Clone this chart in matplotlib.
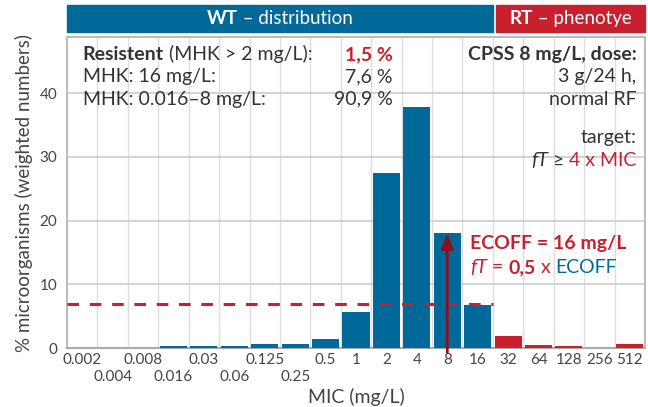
import numpy as np
import matplotlib
matplotlib.use('Agg')
import matplotlib.pyplot as plt
from matplotlib.patches import Rectangle
from matplotlib.transforms import blended_transform_factory

plt.rcParams['font.family'] = ['Lato', 'DejaVu Sans']

# data
mic_labels = ['0.002', '0.004', '0.008', '0.016', '0.03', '0.06', '0.125', '0.25',
              '0.5', '1', '2', '4', '8', '16', '32', '64', '128', '256', '512']
wt_values = [0, 0, 0, 0.3, 0.3, 0.3, 0.6, 0.6, 1.4, 5.7, 27.5, 37.8, 18.0, 6.8]
rt_values = [1.9, 0.5, 0.3, 0, 0.6]
dashed_level = 6.9
ecoff_index = 12   # 8 mg/L position of the arrow
arrow_top = 18.0

blue = '#00699a'
red = '#c8202f'
darkred = '#8e0f1f'
txt = '#333333'
grid_c = '#dddddd'

fig = plt.figure(figsize=(6.48, 4.07), dpi=100)
ax = fig.add_axes([67 / 648, 59 / 407, 578 / 648, 311 / 407])

n = len(mic_labels)
x = np.arange(n)
n_wt = len(wt_values)
ax.bar(x[:n_wt], wt_values, width=0.89, color=blue, zorder=3)
ax.bar(x[n_wt:], rt_values, width=0.89, color=red, zorder=3)

ax.set_xlim(-0.5, n - 0.5)
ax.set_ylim(0, 48.8)

# grid: vertical lines between categories, horizontal at 10 steps
ax.set_xticks(x)
ax.set_xticks(x[:-1] + 0.5, minor=True)
ax.set_yticks([0, 10, 20, 30, 40])
ax.grid(axis='x', which='minor', color=grid_c, lw=1.0, zorder=0)
ax.grid(axis='y', which='major', color='#cccccc', lw=1.2, zorder=0)
ax.tick_params(which='both', length=0)
ax.tick_params(axis='y', labelsize=11, labelcolor='#444444', pad=7)
ax.tick_params(axis='x', labelsize=11, labelcolor='#444444', pad=3.5)
ax.set_xticklabels(mic_labels)
# stagger the crowded low labels onto a second row
for i, tick in enumerate(ax.xaxis.get_major_ticks()):
    if i in (1, 3, 5, 7):
        tick.set_pad(15.5)

for s in ax.spines.values():
    s.set_color('#bbbbbb')
    s.set_linewidth(1.5)
ax.spines['bottom'].set_color('#aaaaaa')

ax.set_ylabel('% microorganisms (weighted numbers)', fontsize=13.5, color='#444444', labelpad=5)
ax.set_xlabel('MIC (mg/L)', fontsize=14, color='#444444', labelpad=3)

# dashed line over WT range
ax.plot([-0.5, n_wt - 0.5], [dashed_level, dashed_level], color=red, lw=2.2,
        dashes=(3.8, 3.5), zorder=4)

# arrow at 8 mg/L
ax.annotate('', xy=(ecoff_index, arrow_top), xytext=(ecoff_index, -0.7),
            xycoords='data', annotation_clip=False,
            arrowprops=dict(arrowstyle='-|>,head_width=0.35,head_length=0.9',
                            color=darkred, lw=2, shrinkA=0, shrinkB=0), zorder=5)

# header bars
tr = blended_transform_factory(ax.transData, ax.transAxes)
ax.add_patch(Rectangle((-0.5, 1.016), n_wt, 0.087, transform=tr, color=blue,
                       clip_on=False))
ax.add_patch(Rectangle((n_wt - 0.5 + 0.1, 1.016), n - n_wt - 0.1, 0.087, transform=tr,
                       color=red, clip_on=False))


def chain(start, pieces, y, ha='left'):
    # draw text pieces next to each other on one baseline
    prev = None
    seq = pieces if ha == 'left' else pieces[::-1]
    for s, kw in seq:
        if prev is None:
            prev = ax.text(start, y, s, ha=ha, va='baseline', **kw)
        else:
            fx = 1 if ha == 'left' else 0
            prev = ax.annotate(s, xy=(fx, y), xycoords=(prev, 'data'),
                               ha=ha, va='baseline', **kw)
    return prev


def hchain(cx, pieces, y):
    # header text centred in a bar (axes coords in y)
    t0 = ax.text(0, 0, ''.join(p[0] for p in pieces), fontsize=13.5)
    fig.canvas.draw()
    w = t0.get_window_extent().width
    t0.remove()
    px = ax.transData.transform((cx, 0))[0] - w / 2
    start = ax.transData.inverted().transform((px, 0))[0]
    prev = None
    for s, kw in pieces:
        if prev is None:
            prev = ax.text(start, y, s, ha='left', va='center', transform=tr,
                           clip_on=False, **kw)
        else:
            prev = ax.annotate(s, xy=(1, 0.5), xycoords=prev, ha='left',
                               va='center', annotation_clip=False, **kw)


wkw = dict(color='white', fontsize=13.5)
hchain((-0.5 + n_wt - 0.5) / 2, [('WT', dict(fontweight='bold', **wkw)),
                                 (' – distribution', wkw)], 1.06)
hchain((n_wt - 0.4 + n - 0.5) / 2, [('RT', dict(fontweight='bold', **wkw)),
                                    (' – phenotye', wkw)], 1.06)

fs = 14
base = dict(fontsize=fs, color=txt)
bold = dict(fontsize=fs, color=txt, fontweight='bold')

# left info block
xl = 0.02
xr = 10.2
chain(xl, [('Resistent', bold), (' (MHK > 2 mg/L):', base)], 45.2)
ax.text(xr, 45.2, '1,5 %', ha='right', va='baseline', fontsize=fs, color=red,
        fontweight='bold')
ax.text(xl, 41.7, 'MHK: 16 mg/L:', ha='left', va='baseline', **base)
ax.text(xr, 41.7, '7,6 %', ha='right', va='baseline', **base)
ax.text(xl, 38.2, 'MHK: 0.016–8 mg/L:', ha='left', va='baseline', **base)
ax.text(xr, 38.2, '90,9 %', ha='right', va='baseline', **base)

# right info block
xr2 = 18.22
ax.text(xr2, 45.2, 'CPSS 8 mg/L, dose:', ha='right', va='baseline', **bold)
ax.text(xr2, 41.7, '3 g/24 h,', ha='right', va='baseline', **base)
ax.text(xr2, 38.2, 'normal RF', ha='right', va='baseline', **base)
ax.text(xr2, 32.1, 'target:', ha='right', va='baseline', **base)
chain(xr2, [('fT', dict(fontsize=fs, color=txt, fontstyle='italic')),
            (' ≥ ', base),
            ('4 x MIC', dict(fontsize=fs, color=red))], 28.5, ha='right')

# ECOFF note
xe = 12.76
chain(xe, [('ECOFF = 16 mg/L', dict(fontsize=fs, color=red, fontweight='bold'))], 15.6)
chain(xe, [('fT', dict(fontsize=fs, color=red, fontstyle='italic')),
           (' = ', dict(fontsize=fs, color=red)),
           ('0,5', dict(fontsize=fs, color=red, fontweight='bold')),
           (' x ', dict(fontsize=fs, color=red)),
           ('ECOFF', dict(fontsize=fs, color=blue))], 11.7)

fig.savefig('out.png', dpi=100)
